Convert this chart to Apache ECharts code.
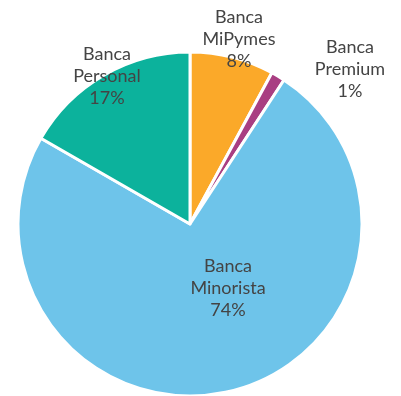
<!DOCTYPE html>
<html>
<head>
<meta charset="utf-8">
<script src="https://cdn.jsdelivr.net/npm/echarts@6/dist/echarts.min.js"></script>
<style>
  html, body { margin: 0; padding: 0; background: #fff; }
  #main { width: 401px; height: 396px; }
</style>
</head>
<body>
<div id="main"></div>
<script>
// segments, clockwise from 12 o'clock
const names = ['Banca\nMiPymes', 'Banca\nPremium', 'Banca\nMinorista', 'Banca\nPersonal']
const shares = [7.9, 1.3, 74.1, 16.7]
const percentLabels = ['8%', '1%', '74%', '17%']
const colors = ['#fba929', '#a93e82', '#6ec4ea', '#0cb29c']

// where each label sits (centre of the text block)
const labelSpots = [
  [239, 39],
  [350, 69],
  [228, 288],
  [107, 76]
]

const chart = echarts.init(document.getElementById('main'))

const option = {
  animation: false,
  series: [
    {
      type: 'pie',
      center: [190, 224],
      radius: [0, 172],
      startAngle: 90,
      clockwise: true,
      avoidLabelOverlap: false,
      itemStyle: {
        borderColor: '#fff',
        borderWidth: 3
      },
      label: {
        show: true,
        position: 'inside',
        color: '#444',
        fontFamily: 'Lato',
        fontSize: 18,
        lineHeight: 22,
        align: 'center',
        formatter: (p) => p.name + '\n' + percentLabels[p.dataIndex]
      },
      labelLine: { show: false },
      labelLayout: (params) => {
        const s = labelSpots[params.dataIndex]
        return { x: s[0], y: s[1], align: 'center', verticalAlign: 'middle' }
      },
      emphasis: { disabled: true },
      data: names.map((n, i) => ({
        name: n,
        value: shares[i],
        itemStyle: { color: colors[i] }
      }))
    }
  ]
}

chart.setOption(option)
</script>
</body>
</html>
